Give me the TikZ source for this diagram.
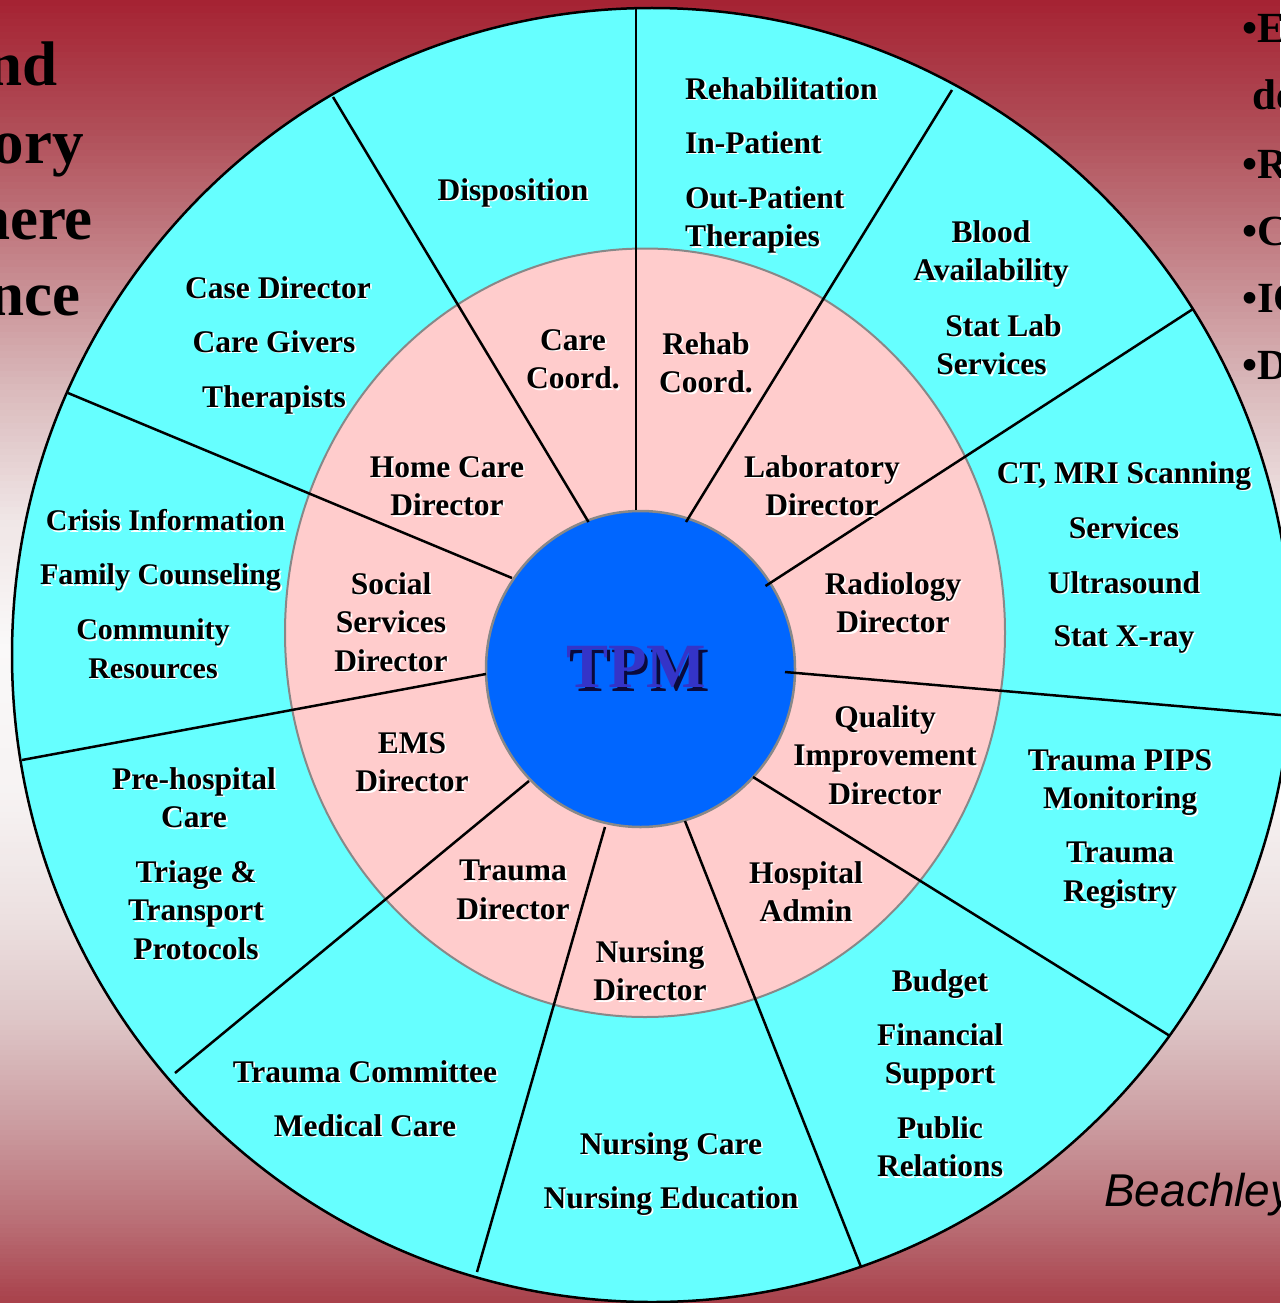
\documentclass[tikz,border=0pt]{standalone}
\usepackage{fontspec}
\setmainfont{Liberation Serif}
\newfontfamily\sansfam{Liberation Sans}
\usetikzlibrary{calc}
\definecolor{bg0}{RGB}{165,34,50}
\definecolor{bg1}{RGB}{176,78,88}
\definecolor{bg2}{RGB}{196,132,138}
\definecolor{bg3}{RGB}{218,186,188}
\definecolor{bg4}{RGB}{240,230,230}
\definecolor{bg5}{RGB}{250,249,249}
\definecolor{bg6}{RGB}{246,242,242}
\definecolor{bg7}{RGB}{236,224,224}
\definecolor{bg8}{RGB}{222,198,199}
\definecolor{bg9}{RGB}{204,158,162}
\definecolor{bg10}{RGB}{186,112,119}
\definecolor{bg11}{RGB}{168,64,74}
\definecolor{ringcyan}{RGB}{102,255,255}
\definecolor{ringpink}{RGB}{255,204,204}
\definecolor{hubblue}{RGB}{0,102,255}
\definecolor{tpmblue}{RGB}{52,52,200}
\definecolor{tpmshadow}{RGB}{10,10,60}
\definecolor{edgegray}{RGB}{136,136,136}
\newcommand\sh[1]{\rlap{\kern1.8pt\raisebox{-1.8pt}[0pt][0pt]{\color{white}#1}}#1}
\tikzset{
  lbl/.style={font=\bfseries\fontsize{31.5}{38.5}\selectfont, align=center, inner sep=0pt, anchor=north},
  lbls/.style={lbl, font=\bfseries\fontsize{30}{38.5}\selectfont},
  lbll/.style={lbl, align=left, anchor=north west},
  sepline/.style={line width=2.5pt, black},
  title/.style={font=\bfseries\fontsize{63}{76}\selectfont, inner sep=0pt, anchor=base east},
  bullets/.style={font=\bfseries\fontsize{43}{67}\selectfont, inner sep=0pt, anchor=base west},
}
\begin{document}
\begin{tikzpicture}[x=1pt,y=-1pt]
\useasboundingbox (0,0) rectangle (1280,1303);
% background gradient (strips)
\foreach \ya/\yb/\ca/\cb in {0/130/bg0/bg1, 130/260/bg1/bg2, 260/390/bg2/bg3, 390/520/bg3/bg4,
  520/650/bg4/bg5, 650/800/bg5/bg6, 800/920/bg6/bg7, 920/1020/bg7/bg8, 1020/1120/bg8/bg9,
  1120/1220/bg9/bg10, 1220/1304/bg10/bg11}{
  \foreach \s in {0,...,19}{
    \pgfmathsetmacro\yy{\ya+(\yb-\ya)*\s/20}
    \pgfmathsetmacro\yyb{\ya+(\yb-\ya)*(\s+1)/20+0.8}
    \pgfmathsetmacro\pp{(\s+0.5)*5}
    \fill[\cb!\pp!\ca] (0,\yy) rectangle (1280,\yyb);
  }
}
% rings
\draw[fill=ringcyan, line width=2.5pt] (652,655) ellipse [x radius=640, y radius=647];
\draw[fill=ringpink, draw=edgegray, line width=2pt] (645,632.75) ellipse [x radius=360, y radius=384.25];
\draw[fill=hubblue, draw=edgegray, line width=2.5pt] (640.5,669) ellipse [x radius=154.5, y radius=158];
% separator end points
\coordinate (i1) at (636,510);   \coordinate (o1) at (636,9);
\coordinate (i2) at (686,522);   \coordinate (o2) at (952,90);
\coordinate (i3) at (765.5,586); \coordinate (o3) at (1193,309);
\coordinate (i4) at (785,672);   \coordinate (o4) at (1292,716);
\coordinate (i5) at (753,777);   \coordinate (o5) at (1170,1036);
\coordinate (i6) at (685,821);   \coordinate (o6) at (861,1267);
\coordinate (i7) at (605,827);   \coordinate (o7) at (477,1272);
\coordinate (i8) at (529,781);   \coordinate (o8) at (175,1073);
\coordinate (i9) at (486,674);   \coordinate (o9) at (22,760);
\coordinate (i10) at (512,578);  \coordinate (o10) at (68,393);
\coordinate (i11) at (588.5,522);\coordinate (o11) at (333,97);
\foreach \k in {1,...,11} \draw[sepline] (i\k) -- (o\k);
% centre
\node[font=\bfseries\fontsize{63}{63}\selectfont, text=tpmblue, inner sep=0pt] (tpm) at (636,667)
  {\rlap{\kern3.5pt\raisebox{-3.5pt}[0pt][0pt]{\color{tpmshadow}TPM}}TPM};
% inner ring
\node[lbl] (carecoord) at (573,329) {\sh{Care}\\\sh{Coord.}};
\node[lbl] (rehabcoord) at (706,332) {\sh{Rehab}\\\sh{Coord.}};
\node[lbl] (labdir) at (822,455) {\sh{Laboratory}\\\sh{Director}};
\node[lbl] (raddir) at (893,572) {\sh{Radiology}\\\sh{Director}};
\node[lbl] (qidir) at (885,705) {\sh{Quality}\\\sh{Improvement}\\\sh{Director}};
\node[lbl] (hospadmin) at (806,861) {\sh{Hospital}\\\sh{Admin}};
\node[lbl] (nursdir) at (650,940) {\sh{Nursing}\\\sh{Director}};
\node[lbl] (traumadir) at (513,860) {\sh{Trauma}\\\sh{Director}};
\node[lbl] (emsdir) at (412,732) {\sh{EMS}\\\sh{Director}};
\node[lbl] (socdir) at (391,572) {\sh{Social}\\\sh{Services}\\\sh{Director}};
\node[lbl] (homedir) at (447,456) {\sh{Home Care}\\\sh{Director}};
% outer ring
\node[lbl] (disp) at (513,178) {\sh{Disposition}};
\node[lbll] (rehab1) at (685,77) {\sh{Rehabilitation}};
\node[lbll] (rehab2) at (685,131) {\sh{In-Patient}};
\node[lbll] (rehab3) at (685,186) {\sh{Out-Patient}\\\sh{Therapies}};
\node[lbl] (blood) at (991,220) {\sh{Blood}\\\sh{Availability}};
\node[lbl] (statlab) at (997.5,314) {\hspace*{12pt}\sh{Stat Lab}\\\sh{Services}\hspace*{12pt}};
\node[lbl] (ct) at (1124,461) {\sh{CT, MRI Scanning}};
\node[lbl] (ctsvc) at (1124,516) {\sh{Services}};
\node[lbl] (us) at (1124,571) {\sh{Ultrasound}};
\node[lbl] (xray) at (1124,625) {\sh{Stat X-ray}};
\node[lbl] (pips) at (1120,749) {\sh{Trauma PIPS}\\\sh{Monitoring}};
\node[lbl] (registry) at (1120,842) {\sh{Trauma}\\\sh{Registry}};
\node[lbl] (budget) at (940,969) {\sh{Budget}};
\node[lbl] (fin) at (940,1023) {\sh{Financial}\\\sh{Support}};
\node[lbl] (pr) at (940,1116) {\sh{Public}\\\sh{Relations}};
\node[lbl] (ncare) at (671,1132) {\sh{Nursing Care}};
\node[lbl] (nedu) at (671,1186) {\sh{Nursing Education}};
\node[lbl] (tcomm) at (365,1060) {\sh{Trauma Committee}};
\node[lbl] (medcare) at (365,1114) {\sh{Medical Care}};
\node[lbl] (prehosp) at (194,767) {\sh{Pre-hospital}\\\sh{Care}};
\node[lbl] (triage) at (196,860) {\sh{Triage \&}\\\sh{Transport}\\\sh{Protocols}};
\node[lbls] (crisis) at (165.5,509.5) {\sh{Crisis Information}};
\node[lbls] (family) at (160.5,563.5) {\sh{Family Counseling}};
\node[lbls] (community) at (153,618.5) {\sh{Community}\\\sh{Resources}};
\node[lbl] (casedir) at (278,276) {\sh{Case Director}};
\node[lbl] (givers) at (274,330) {\sh{Care Givers}};
\node[lbl] (therapists) at (274,385) {\sh{Therapists}};
% cut-off slide text
\node[title] (t1) at (58,86) {nd};
\node[title] (t2) at (84,163) {ory};
\node[title] (t3) at (93,239) {here};
\node[title] (t4) at (81,315) {nce};
\node[bullets] (b1) at (1242,43) {•E};
\node[bullets] (b2) at (1252,110) {de};
\node[bullets] (b3) at (1242,178) {•R};
\node[bullets] (b4) at (1242,245) {•C};
\node[bullets] (b5) at (1242,312) {•IC};
\node[bullets] (b6) at (1242,379) {•D};
\node[font=\sansfam\itshape\fontsize{46}{46}\selectfont, inner sep=0pt, anchor=base west] (author) at (1104,1206) {Beachley};
\end{tikzpicture}
\end{document}
